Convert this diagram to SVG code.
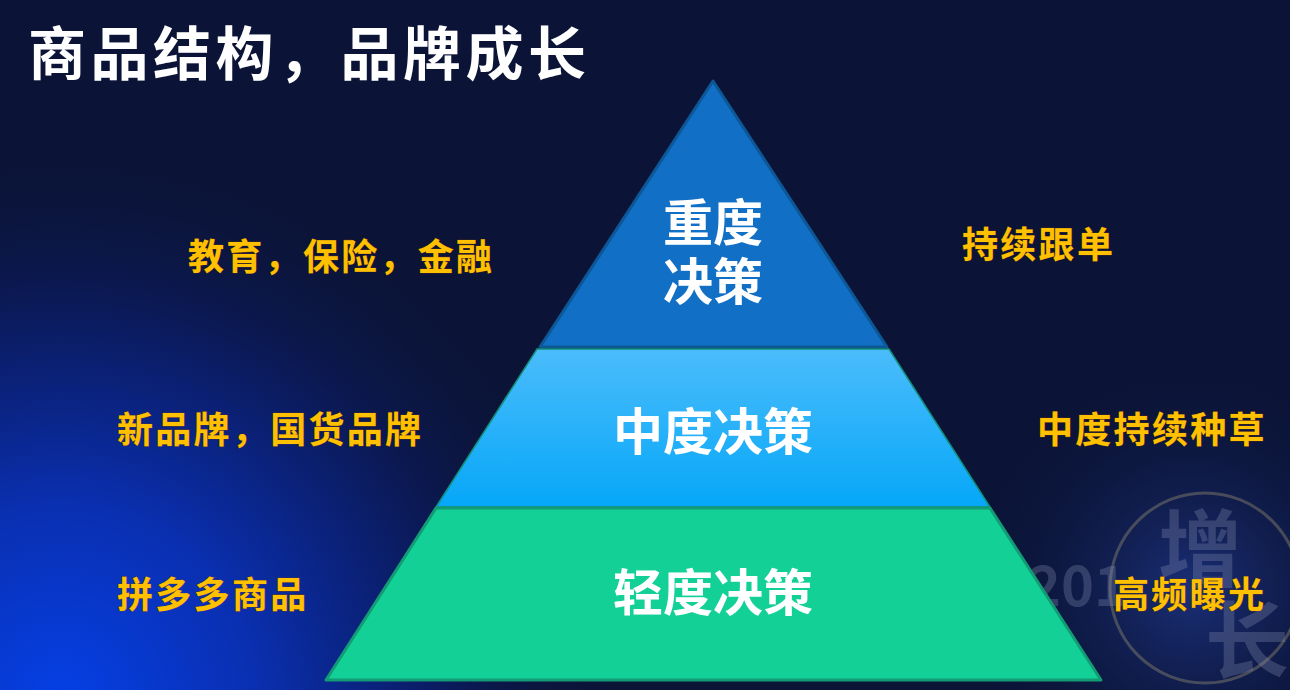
<svg xmlns="http://www.w3.org/2000/svg" width="1290" height="690" viewBox="0 0 1290 690">
<defs>
<radialGradient id="glow" cx="60" cy="700" r="560" gradientUnits="userSpaceOnUse">
<stop offset="0" stop-color="#0540e6"/>
<stop offset="0.35" stop-color="#0a2fb0"/>
<stop offset="0.7" stop-color="#0b1a5a"/>
<stop offset="1" stop-color="#0b1437" stop-opacity="0"/>
</radialGradient>
<radialGradient id="glow2" cx="1190" cy="590" r="230" gradientUnits="userSpaceOnUse">
<stop offset="0" stop-color="#1a2f78"/>
<stop offset="1" stop-color="#0b1437" stop-opacity="0"/>
</radialGradient>
<linearGradient id="mid" x1="0" y1="349" x2="0" y2="507" gradientUnits="userSpaceOnUse">
<stop offset="0" stop-color="#4bbcfb"/>
<stop offset="1" stop-color="#06a7f8"/>
</linearGradient>
<style>
.lbl{font-family:"Noto Sans CJK SC","Noto Sans CJK JP",sans-serif;font-weight:700;fill:#ffffff;text-anchor:middle}
.side{font-family:"Noto Sans CJK SC","Noto Sans CJK JP",sans-serif;font-weight:700;fill:#ffc000;font-size:36px;letter-spacing:2.3px;stroke:#6a3a10;stroke-width:0.6;paint-order:stroke}
.deco{font-family:"Noto Sans CJK SC","Liberation Sans",sans-serif;font-weight:700;fill:#8a93b4;opacity:0.3}
</style>
</defs>
<rect width="1290" height="690" fill="#0b1437"/>
<rect width="1290" height="690" fill="url(#glow)"/>
<rect x="960" y="380" width="330" height="310" fill="url(#glow2)"/>
<g id="background-decoration">
<circle cx="1205" cy="588" r="95" fill="none" stroke="#9a9070" stroke-width="3" opacity="0.4"/>
<text class="deco" x="1028" y="606" font-size="56">201</text>
<text class="deco" x="1158" y="580" font-size="84">增</text>
<text class="deco" x="1205" y="672" font-size="84">长</text>
</g>
<text x="28" y="75" font-family="Noto Sans CJK SC,Noto Sans CJK JP,sans-serif" font-weight="700" font-size="58" fill="#ffffff" letter-spacing="4.5">商品结构，品牌成长</text>
<g id="node-heavy">
<polygon points="713,81 540,347 887,347" fill="#1170c5" stroke="#0d5796" stroke-width="3" stroke-linejoin="round"/>
<text class="lbl" x="713" y="241" font-size="50">重度</text>
<text class="lbl" x="713" y="300" font-size="50">决策</text>
</g>
<g id="node-medium">
<polygon points="537,349 889,349 990,507 436,507" fill="url(#mid)" stroke="#11907a" stroke-width="1.5"/>
<text class="lbl" x="713" y="450" font-size="50">中度决策</text>
</g>
<g id="node-light">
<polygon points="436,508 990,508 1101,680 326,680" fill="#12d096" stroke="#129b74" stroke-width="3" stroke-linejoin="round"/>
<text class="lbl" x="713" y="611" font-size="50">轻度决策</text>
</g>
<g id="connectors"/>
<g id="labels-left">
<text class="side" x="188" y="270">教育，保险，金融</text>
<text class="side" x="117" y="443">新品牌，国货品牌</text>
<text class="side" x="117" y="608">拼多多商品</text>
</g>
<g id="labels-right">
<text class="side" x="962" y="258">持续跟单</text>
<text class="side" x="1037" y="443">中度持续种草</text>
<text class="side" x="1113" y="608">高频曝光</text>
</g>
</svg>
